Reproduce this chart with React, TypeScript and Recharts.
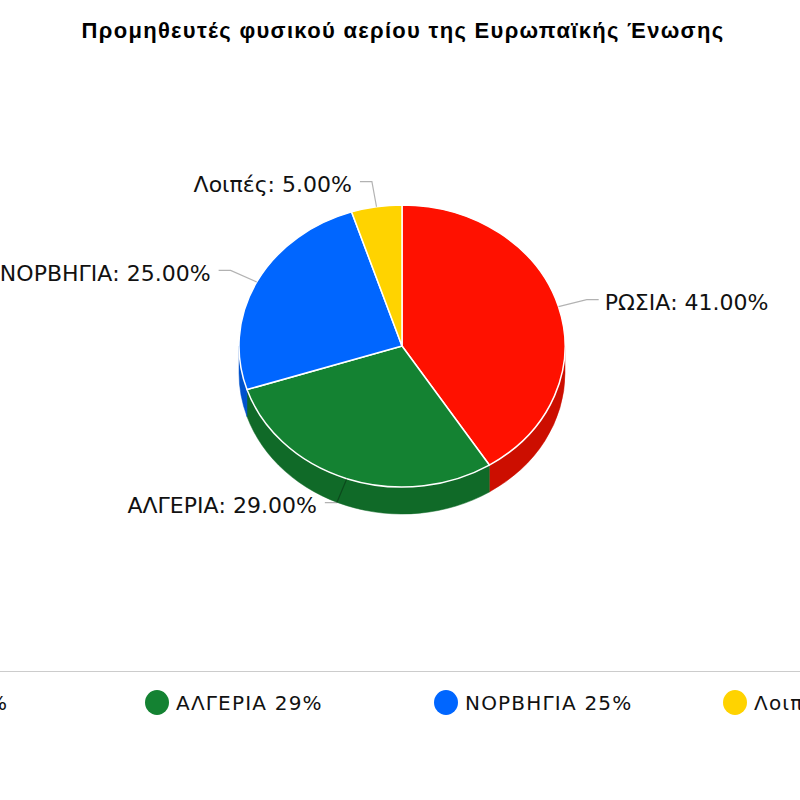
import { PieChart, Pie, Legend } from "recharts";

const names = ["ΡΩΣΙΑ", "ΑΛΓΕΡΙΑ", "ΝΟΡΒΗΓΙΑ", "Λοιπές"];
const shares = [41, 29, 25, 5];
const topColors = ["#ff1100", "#148232", "#0066ff", "#ffd300"];
const sideColors = ["#cc0e00", "#106a28", "#0052cc", "#ccaa00"];

const data = names.map((name, i) => ({ name, value: shares[i], fill: topColors[i], side: sideColors[i] }));

const TILT = 141 / 163;
const DEPTH = 27;
const RAD = Math.PI / 180;

const pt = (cx: number, cy: number, r: number, a: number, dy = 0) => [
  cx + r * Math.cos(-a * RAD),
  cy + dy + r * TILT * Math.sin(-a * RAD),
];

function TopSector(p: any) {
  const { cx, cy, outerRadius: r, startAngle, endAngle, fill } = p;
  const [x1, y1] = pt(cx, cy, r, startAngle);
  const [x2, y2] = pt(cx, cy, r, endAngle);
  const large = Math.abs(startAngle - endAngle) > 180 ? 1 : 0;
  const d = `M${cx},${cy} L${x1},${y1} A${r},${r * TILT} 0 ${large} 1 ${x2},${y2} Z`;
  return <path d={d} fill={fill} stroke="#fff" strokeWidth={1.5} strokeLinejoin="round" />;
}

function SideSector(p: any) {
  const { cx, cy, outerRadius: r, startAngle, endAngle, payload } = p;
  // only the front (lower) half of the rim is visible
  const b = Math.min(startAngle, 0);
  const a = Math.max(endAngle, -180);
  if (a >= b) return <g />;
  const [x1, y1] = pt(cx, cy, r, b);
  const [x2, y2] = pt(cx, cy, r, a);
  const [x3, y3] = pt(cx, cy, r, a, DEPTH);
  const [x4, y4] = pt(cx, cy, r, b, DEPTH);
  const d = `M${x1},${y1} A${r},${r * TILT} 0 0 1 ${x2},${y2} L${x3},${y3} A${r},${r * TILT} 0 0 0 ${x4},${y4} Z`;
  const color = payload?.side ?? sideColors[p.index ?? 0];
  return <path d={d} fill={color} stroke={color} strokeWidth={0.5} />;
}

function renderLabel(p: any) {
  const { cx, cy, outerRadius: r, midAngle, name, value } = p;
  const [ex, ey] = pt(cx, cy, r, midAngle);
  const [mx, my] = pt(cx, cy, r * 1.18, midAngle);
  const right = Math.cos(-midAngle * RAD) >= 0;
  const hx = mx + (right ? 12 : -12);
  return (
    <g>
      <polyline points={`${ex},${ey} ${mx},${my} ${hx},${my}`} fill="none" stroke="#000" strokeOpacity={0.3} strokeWidth={1.2} />
      <text x={hx + (right ? 6 : -8)} y={my + 3} textAnchor={right ? "start" : "end"} dominantBaseline="central"
        fontFamily="DejaVu Sans" fontSize={22} fill="#111">
        {`${name}: ${Number(value).toFixed(2)}%`}
      </text>
    </g>
  );
}

function LegendRow() {
  return (
    <div style={{ width: 800, height: 128, borderTop: "1px solid #cccccc", overflow: "hidden", position: "relative" }}>
      <div style={{ position: "absolute", left: -144, top: 18, display: "flex", whiteSpace: "nowrap" }}>
        {names.map((n, i) => (
          <div key={n} style={{ width: 289, flex: "none", display: "flex", alignItems: "center" }}>
            <span style={{ width: 24, height: 25, borderRadius: "50%", background: topColors[i], display: "inline-block", flex: "none" }} />
            <span style={{ marginLeft: 7, fontFamily: "DejaVu Sans", fontSize: 20, letterSpacing: 1.2, color: "#111" }}>
              {`${n} ${shares[i]}%`}
            </span>
          </div>
        ))}
      </div>
    </div>
  );
}

export default function App() {
  return (
    <div style={{ position: "relative", width: 800, height: 800, background: "#fff", overflow: "hidden" }}>
      <style>{`body{margin:0}`}</style>
      <div style={{ position: "absolute", top: 18, left: 0, width: 806, textAlign: "center", fontFamily: "Liberation Sans", fontWeight: "bold", fontSize: 22, letterSpacing: 1.3, color: "#000", zIndex: 2 }}>
        Προμηθευτές φυσικού αερίου της Ευρωπαϊκής Ένωσης
      </div>
      <PieChart width={800} height={800} margin={{ top: 0, right: 0, bottom: 0, left: 0 }}>
        <Pie data={data} dataKey="value" nameKey="name" cx={402} cy={346} outerRadius={163}
          startAngle={90} endAngle={-270} shape={SideSector} activeShape={SideSector}
          stroke="none" label={false} labelLine={false} isAnimationActive={false} />
        <Pie data={data} dataKey="value" nameKey="name" cx={402} cy={346} outerRadius={163}
          startAngle={90} endAngle={-270} shape={TopSector} activeShape={TopSector}
          label={renderLabel} labelLine={false} isAnimationActive={false} />
        <Legend content={() => <LegendRow />} wrapperStyle={{ position: "absolute", top: 671, left: 0, width: 800 }} />
      </PieChart>
    </div>
  );
}
